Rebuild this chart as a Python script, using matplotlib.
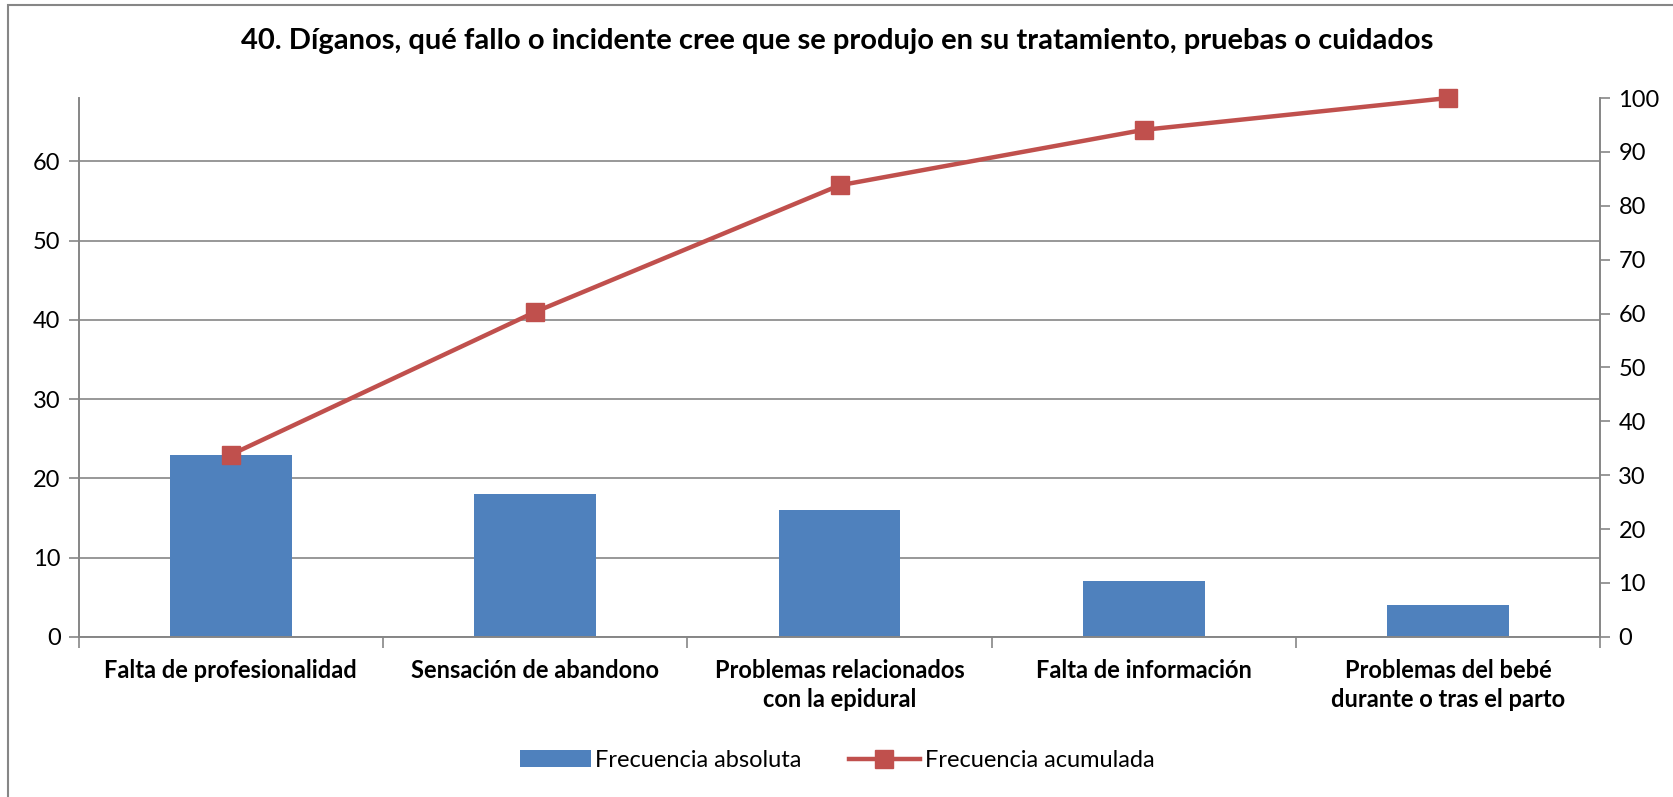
import matplotlib.pyplot as plt
import matplotlib.patches as mpatches
import numpy as np

plt.rcParams['font.family'] = ['Lato', 'DejaVu Sans']

categorias = ['Falta de profesionalidad', 'Sensación de abandono',
              'Problemas relacionados\ncon la epidural', 'Falta de información',
              'Problemas del bebé\ndurante o tras el parto']
frec_abs = [23, 18, 16, 7, 4]
frec_acum = [33.8, 60.3, 83.8, 94.1, 100]

azul = '#4F81BD'
rojo = '#C0504D'
gris = '#868686'

fig = plt.figure(figsize=(16.74, 7.97), dpi=100)
ax = fig.add_axes([0.047, 0.201, 0.909, 0.676])
ax2 = ax.twinx()

x = np.arange(len(categorias))
ax.bar(x, frec_abs, width=0.4, color=azul, label='Frecuencia absoluta', zorder=2)
ax2.plot(x, frec_acum, color=rojo, lw=3.2, marker='s', markersize=13,
         label='Frecuencia acumulada', zorder=3, clip_on=False)

ax.set_xlim(-0.5, len(categorias) - 0.5)
ax.set_ylim(0, 68)
ax2.set_ylim(0, 100)
ax.set_yticks(range(0, 70, 10))
ax2.set_yticks(range(0, 101, 10))

ax.set_xticks(x)
ax.set_xticklabels(categorias, fontsize=17, fontweight='bold', linespacing=1.3)
ax.tick_params(axis='x', length=0, pad=16)
ax.set_xticks(np.arange(-0.5, len(categorias), 1), minor=True)
ax.tick_params(axis='x', which='minor', length=8, color=gris, width=1.2)

ax.yaxis.grid(True, color=gris, lw=1.2, zorder=0)
ax.set_axisbelow(True)
ax.tick_params(axis='y', labelsize=17, length=7, color=gris, width=1.2, pad=6)
ax2.tick_params(axis='y', labelsize=17, length=7, color=gris, width=1.2, pad=6)

for a in (ax, ax2):
    a.spines['top'].set_visible(False)
    for s in ['left', 'right', 'bottom']:
        a.spines[s].set_color(gris)
        a.spines[s].set_linewidth(1.2)

fig.suptitle('40. Díganos, qué fallo o incidente cree que se produjo en su tratamiento, pruebas o cuidados',
             x=0.5, y=0.965, fontsize=21, fontweight='bold')

h1, l1 = ax.get_legend_handles_labels()
h2, l2 = ax2.get_legend_handles_labels()
fig.legend(h1 + h2, l1 + l2, loc='center', bbox_to_anchor=(0.5, 0.046), ncol=2,
           frameon=False, fontsize=17, handlelength=3.0, columnspacing=2.0, handletextpad=0.2)

fig.patches.append(mpatches.Rectangle((0.005, -0.01), 1.2, 1.004, transform=fig.transFigure,
                                      fill=False, edgecolor=gris, lw=1.5))

fig.savefig('out.png', dpi=100)
